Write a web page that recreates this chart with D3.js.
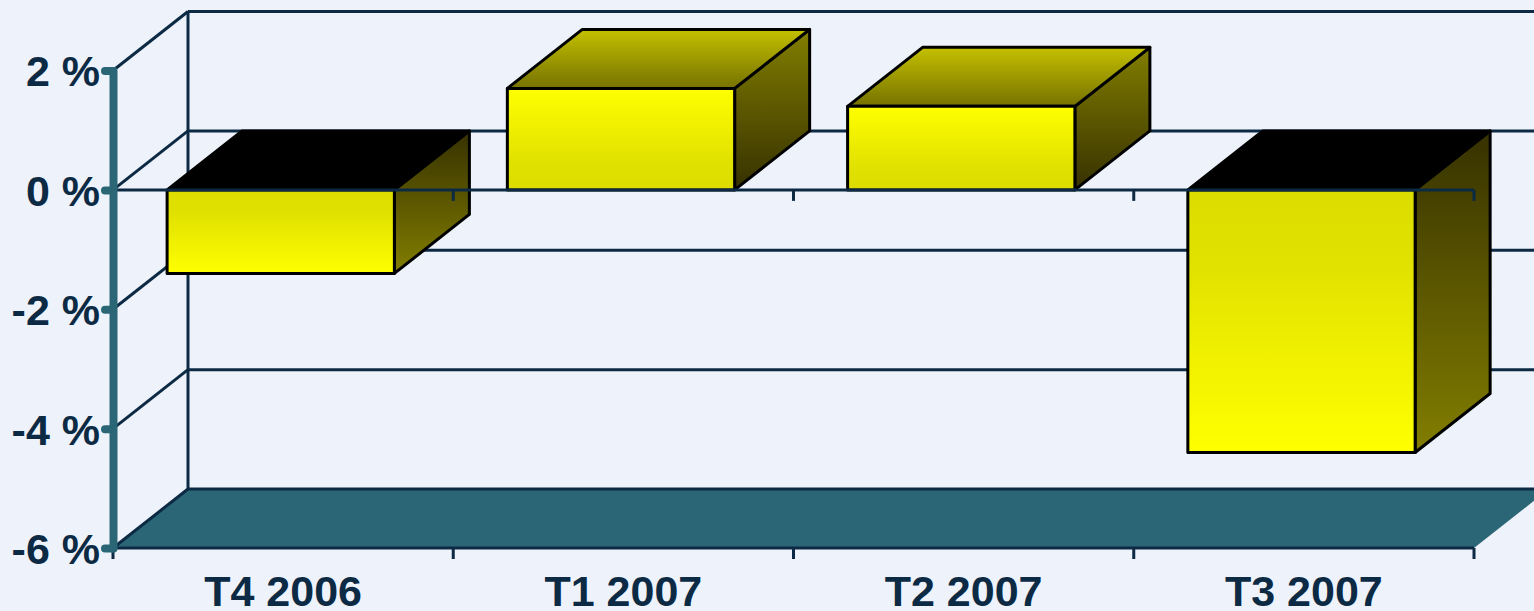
<!DOCTYPE html>
<html>
<head>
<meta charset="utf-8">
<script src="https://cdn.jsdelivr.net/npm/d3@7"></script>
<style>
  html, body { margin: 0; padding: 0; background: #EEF2FA; overflow: hidden; }
  svg { display: block; }
</style>
</head>
<body>
<script>
// Quarterly change, in percent
const categories = ["T4 2006", "T1 2007", "T2 2007", "T3 2007"];
const values = [-1.4, 1.7, 1.4, -4.4];
const yTicks = [-6, -4, -2, 0, 2];

const W = 1534, H = 611;
const DX = 75, DY = -59;           // depth offset of the 3D box
const ink = "#0C2A44";
const teal = "#2B6676";

const svg = d3.select("body").append("svg").attr("width", W).attr("height", H);
svg.append("rect").attr("width", W).attr("height", H).attr("fill", "#EEF2FA");

const x = d3.scaleBand().domain(categories).range([113, 1474]).padding(0);
const y = d3.scaleLinear().domain([-6, 2]).range([548, 70.5]);
const bw = x.bandwidth();
const x0 = x.range()[0], x1 = x.range()[1];
const yMin = y(-6), yMax = y(2);

const defs = svg.append("defs");

// floor
const floor = svg.append("g");
floor.append("path")
  .attr("d", `M${x0},${yMin} L${x0 + DX},${yMin + DY} L${x1 + DX},${yMin + DY} L${x1},${yMin} Z`)
  .attr("fill", teal);
floor.append("line").attr("x1", x0 + DX).attr("x2", x1 + DX)
  .attr("y1", yMin + DY).attr("y2", yMin + DY)
  .attr("stroke", ink).attr("stroke-width", 3);
floor.append("line").attr("x1", x0).attr("x2", x0 + DX)
  .attr("y1", yMin).attr("y2", yMin + DY)
  .attr("stroke", ink).attr("stroke-width", 3);

// back wall grid and side wall diagonals
const walls = svg.append("g").attr("stroke", ink).attr("stroke-width", 3);
yTicks.filter(t => t > -6).forEach(t => {
  walls.append("line").attr("x1", x0 + DX).attr("x2", x1 + DX)
    .attr("y1", y(t) + DY).attr("y2", y(t) + DY);
  walls.append("line").attr("x1", x0).attr("x2", x0 + DX)
    .attr("y1", y(t)).attr("y2", y(t) + DY);
});
walls.append("line").attr("x1", x0 + DX).attr("x2", x0 + DX)
  .attr("y1", yMax + DY).attr("y2", yMin + DY);

// bars
const bars = svg.append("g");
const zeroY = y(0);
categories.forEach((c, i) => {
  const v = values[i];
  const left = x(c) + bw * 0.159;
  const right = left + bw * 0.668;
  const vy = y(v);
  const topY = Math.min(vy, zeroY), botY = Math.max(vy, zeroY);
  const pos = v >= 0;

  const gFront = defs.append("linearGradient").attr("id", "front" + i)
    .attr("gradientUnits", "userSpaceOnUse").attr("x1", 0).attr("x2", 0)
    .attr("y1", zeroY).attr("y2", vy);
  gFront.append("stop").attr("offset", 0).attr("stop-color", "#DCDC00");
  gFront.append("stop").attr("offset", 0.3).attr("stop-color", "#E2E200");
  gFront.append("stop").attr("offset", 1).attr("stop-color", "#FFFF00");

  // side face: dark next to the zero plane, lighter toward the bar's end
  const sideDark = pos ? botY : topY + DY;
  const sideLight = pos ? topY + DY : botY;
  const gSide = defs.append("linearGradient").attr("id", "side" + i)
    .attr("gradientUnits", "userSpaceOnUse").attr("x1", 0).attr("x2", 0)
    .attr("y1", sideDark).attr("y2", sideLight);
  gSide.append("stop").attr("offset", 0).attr("stop-color", "#363100");
  gSide.append("stop").attr("offset", 1).attr("stop-color", "#827E00");

  const gTop = defs.append("linearGradient").attr("id", "top" + i)
    .attr("gradientUnits", "userSpaceOnUse").attr("x1", 0).attr("x2", 0)
    .attr("y1", topY + DY).attr("y2", topY);
  gTop.append("stop").attr("offset", 0).attr("stop-color", "#C4C000");
  gTop.append("stop").attr("offset", 1).attr("stop-color", "#767200");

  const g = bars.append("g").attr("stroke", "#000").attr("stroke-width", 3)
    .attr("stroke-linejoin", "round");
  // right side
  g.append("path")
    .attr("d", `M${right},${topY} L${right + DX},${topY + DY} L${right + DX},${botY + DY} L${right},${botY} Z`)
    .attr("fill", `url(#side${i})`);
  // top
  g.append("path")
    .attr("d", `M${left},${topY} L${left + DX},${topY + DY} L${right + DX},${topY + DY} L${right},${topY} Z`)
    .attr("fill", pos ? `url(#top${i})` : "#000");
  // front
  g.append("rect").attr("x", left).attr("y", topY)
    .attr("width", right - left).attr("height", botY - topY)
    .attr("fill", `url(#front${i})`);
});

// front axis lines (zero and floor) with category boundary ticks
const bounds = categories.map(c => x(c)).concat([x1]);
const front = svg.append("g").attr("stroke", ink).attr("stroke-width", 3);
[0, -6].forEach(t => {
  front.append("line").attr("x1", x0).attr("x2", x1).attr("y1", y(t)).attr("y2", y(t));
});

// value axis
const yAxis = d3.axisLeft(y).tickValues(yTicks).tickSize(13).tickSizeOuter(0)
  .tickPadding(0).tickFormat(d => d + " %");
const ya = svg.append("g").attr("transform", `translate(${x0},0)`).call(yAxis);
ya.select(".domain").attr("stroke", teal).attr("stroke-width", 8)
  .attr("stroke-linecap", "round");
ya.selectAll(".tick line").attr("stroke", teal).attr("stroke-width", 8)
  .attr("stroke-linecap", "round").attr("x1", -8).attr("x2", 0);
ya.selectAll(".tick text")
  .attr("fill", ink).attr("font-family", "'Liberation Sans', Arial, sans-serif")
  .attr("font-weight", "bold").attr("font-size", 43).attr("dy", "0.36em");

[0, -6].forEach(t => {
  bounds.forEach(b => {
    front.append("line").attr("x1", b).attr("x2", b)
      .attr("y1", y(t)).attr("y2", y(t) + 11);
  });
});

// category labels
svg.append("g").selectAll("text").data(categories).join("text")
  .attr("x", d => x(d) + bw / 2).attr("y", 606)
  .attr("text-anchor", "middle")
  .attr("fill", ink).attr("font-family", "'Liberation Sans', Arial, sans-serif")
  .attr("font-weight", "bold").attr("font-size", 43)
  .text(d => d);
</script>
</body>
</html>
